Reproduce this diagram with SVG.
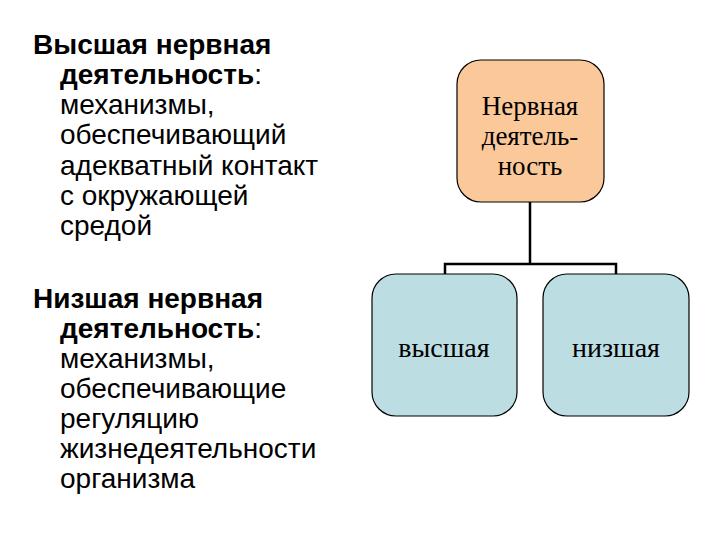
<svg xmlns="http://www.w3.org/2000/svg" width="720" height="540" viewBox="0 0 720 540">
<style>
.t{font-family:"Liberation Sans",Arial,sans-serif;font-size:28px;fill:#000}
.b{font-weight:bold}
.n{font-family:"Liberation Serif","Times New Roman",serif;font-size:27px;fill:#000;text-anchor:middle}
.m{font-size:28px}
.box{stroke:#000;stroke-width:1.2}
.con{fill:none;stroke:#000;stroke-width:2.5}
</style>
<rect width="720" height="540" fill="#fff"/>
<g id="text-left">
<text class="t" x="33" y="54"><tspan class="b">Высшая нервная</tspan></text>
<text class="t" x="60" y="84"><tspan class="b">деятельность</tspan>:</text>
<text class="t" x="60" y="114">механизмы,</text>
<text class="t" x="60" y="144">обеспечивающий</text>
<text class="t" x="60" y="175">адекватный контакт</text>
<text class="t" x="60" y="205">с окружающей</text>
<text class="t" x="60" y="235">средой</text>
<text class="t" x="33" y="308"><tspan class="b">Низшая нервная</tspan></text>
<text class="t" x="60" y="338"><tspan class="b">деятельность</tspan>:</text>
<text class="t" x="60" y="368">механизмы,</text>
<text class="t" x="60" y="398">обеспечивающие</text>
<text class="t" x="60" y="428">регуляцию</text>
<text class="t" x="60" y="458">жизнедеятельности</text>
<text class="t" x="60" y="488">организма</text>
</g>
<g id="connectors">
<path class="con" d="M530 202 V264 M445 275 V264 H616 V275"/>
</g>
<g id="node-root">
<rect class="box" x="457" y="60" width="147" height="142" rx="24" fill="#FBC89A"/>
<text class="n" x="530" y="115">Нервная</text>
<text class="n" x="530" y="145">деятель-</text>
<text class="n" x="530" y="175">ность</text>
</g>
<g id="node-high">
<rect class="box" x="372" y="274" width="145" height="142" rx="24" fill="#BCDEE3"/>
<text class="n m" x="444" y="357">высшая</text>
</g>
<g id="node-low">
<rect class="box" x="543" y="274" width="146" height="142" rx="24" fill="#BCDEE3"/>
<text class="n m" x="616" y="357">низшая</text>
</g>
</svg>
